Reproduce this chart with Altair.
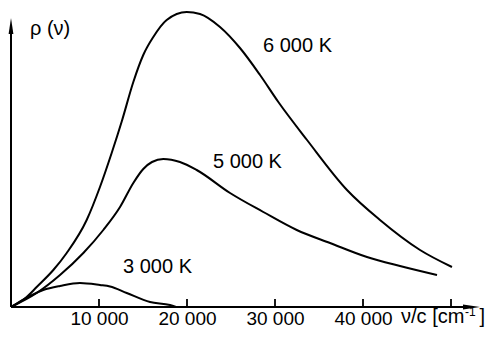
import altair as alt
import pandas as pd

# ---- data (x in cm^-1, y in arbitrary units) ----
x_6000 = [0, 1780, 2920, 4810, 6330, 8600, 10110, 11440, 12600, 13900, 15030, 16170, 17690, 19970, 21480, 23750, 26020, 28300, 30380, 33640, 38180, 41930, 46480, 50110]
y_6000 = [0, 10, 20, 37, 54, 87, 120, 154, 186, 225, 252, 270, 287, 295, 293, 280, 259, 232, 205, 167, 117, 87, 57, 40]

x_5000 = [0, 2920, 5570, 8220, 10490, 12390, 13900, 15030, 16020, 17310, 19200, 21100, 24890, 28670, 32470, 36250, 40450, 44200, 48410]
y_5000 = [0, 14, 32, 54, 77, 100, 124, 138, 145, 148, 145, 137, 114, 95, 77, 64, 50, 41, 32]

x_3000 = [0, 3670, 5570, 7840, 10110, 11250, 13150, 15800, 18070, 18750]
y_3000 = [0, 17, 21, 24, 22, 20.5, 14, 5, 2, 0]

tick_values = [10000, 20000, 30000, 40000, 50000]
label_values = [10000, 20000, 30000, 40000]

curve_labels = ["6 000 K", "5 000 K", "3 000 K"]
curve_label_x = [28640, 22950, 12730]
curve_label_y = [255, 139, 34]

FONT = "Liberation Sans"

rows = []
for name, xs_, ys_ in [("6000", x_6000, y_6000), ("5000", x_5000, y_5000), ("3000", x_3000, y_3000)]:
    for a, b in zip(xs_, ys_):
        rows.append({"T": name, "nu": a, "rho": b})
curves_df = pd.DataFrame(rows)

# plot area: 480 px wide -> 0..54545 (8.8 px per 1000), 299 px tall
xs = alt.Scale(domain=[0, 54545], nice=False, zero=False)
ys = alt.Scale(domain=[0, 299], nice=False, zero=False)

x_axis = alt.Axis(values=label_values, domain=False, ticks=False, grid=False,
                  labelExpr="replace(format(datum.value, ','), ',', ' ')",
                  labelFont=FONT, labelFontSize=19, labelColor="black",
                  labelBaseline="alphabetic", labelPadding=17, title=None)

curves = alt.Chart(curves_df).mark_line(color="black", strokeWidth=2, interpolate="monotone").encode(
    x=alt.X("nu:Q", scale=xs, axis=x_axis),
    y=alt.Y("rho:Q", scale=ys, axis=None),
    detail="T:N",
)

# axes lines
xline = alt.Chart(pd.DataFrame({"a": [0], "b": [52000], "y": [0]})).mark_rule(color="black", strokeWidth=2).encode(
    x=alt.X("a:Q", scale=xs), x2="b:Q", y=alt.Y("y:Q", scale=ys))
yline = alt.Chart(pd.DataFrame({"x": [0], "a": [0], "b": [278]})).mark_rule(color="black", strokeWidth=2).encode(
    x=alt.X("x:Q", scale=xs), y=alt.Y("a:Q", scale=ys), y2="b:Q")

ticks = alt.Chart(pd.DataFrame({"x": tick_values, "a": [0] * 5, "b": [8] * 5})).mark_rule(color="black", strokeWidth=1.8).encode(
    x=alt.X("x:Q", scale=xs), y=alt.Y("a:Q", scale=ys), y2="b:Q")

arrow_up = alt.Chart(pd.DataFrame({"x": [0], "y": [281]})).mark_point(
    shape="M0,-1L0.3,1L-0.3,1Z", size=256, filled=True, color="black", opacity=1, strokeWidth=0).encode(
    x=alt.X("x:Q", scale=xs), y=alt.Y("y:Q", scale=ys))
arrow_right = alt.Chart(pd.DataFrame({"x": [52330], "y": [0]})).mark_point(
    shape="M1,0L-1,-0.28L-1,0.28Z", size=289, filled=True, color="black", opacity=1, strokeWidth=0).encode(
    x=alt.X("x:Q", scale=xs), y=alt.Y("y:Q", scale=ys))

labels = alt.Chart(pd.DataFrame({"t": curve_labels, "x": curve_label_x, "y": curve_label_y})).mark_text(
    font=FONT, fontSize=20, align="left", baseline="alphabetic", color="black").encode(
    x=alt.X("x:Q", scale=xs), y=alt.Y("y:Q", scale=ys), text="t:N")

ylabel = alt.Chart(pd.DataFrame({"t": ["ρ  (ν)"], "x": [2160], "y": [272]})).mark_text(
    font=FONT, fontSize=20, align="left", baseline="alphabetic", color="black").encode(
    x=alt.X("x:Q", scale=xs), y=alt.Y("y:Q", scale=ys), text="t:N")

xlabel = alt.Chart(pd.DataFrame({"t": ["ν/c [cm"], "x": [44320], "y": [-16]})).mark_text(
    font=FONT, fontSize=20, align="left", baseline="alphabetic", color="black").encode(
    x=alt.X("x:Q", scale=xs), y=alt.Y("y:Q", scale=ys), text="t:N")
xsup = alt.Chart(pd.DataFrame({"t": ["-1"], "x": [51600], "y": [-9]})).mark_text(
    font=FONT, fontSize=12, align="left", baseline="alphabetic", color="black").encode(
    x=alt.X("x:Q", scale=xs), y=alt.Y("y:Q", scale=ys), text="t:N")
xbr = alt.Chart(pd.DataFrame({"t": ["]"], "x": [53250], "y": [-16]})).mark_text(
    font=FONT, fontSize=20, align="left", baseline="alphabetic", color="black").encode(
    x=alt.X("x:Q", scale=xs), y=alt.Y("y:Q", scale=ys), text="t:N")

chart = alt.layer(curves, xline, yline, ticks, arrow_up, arrow_right, labels, ylabel, xlabel, xsup, xbr).properties(
    width=480, height=299,
    autosize=alt.AutoSizeParams(type="none"),
    padding={"left": 3, "top": 0, "right": 0, "bottom": 21},
).configure_view(stroke=None)

chart.save("out.html", embed_options={"renderer": "svg", "actions": False})
